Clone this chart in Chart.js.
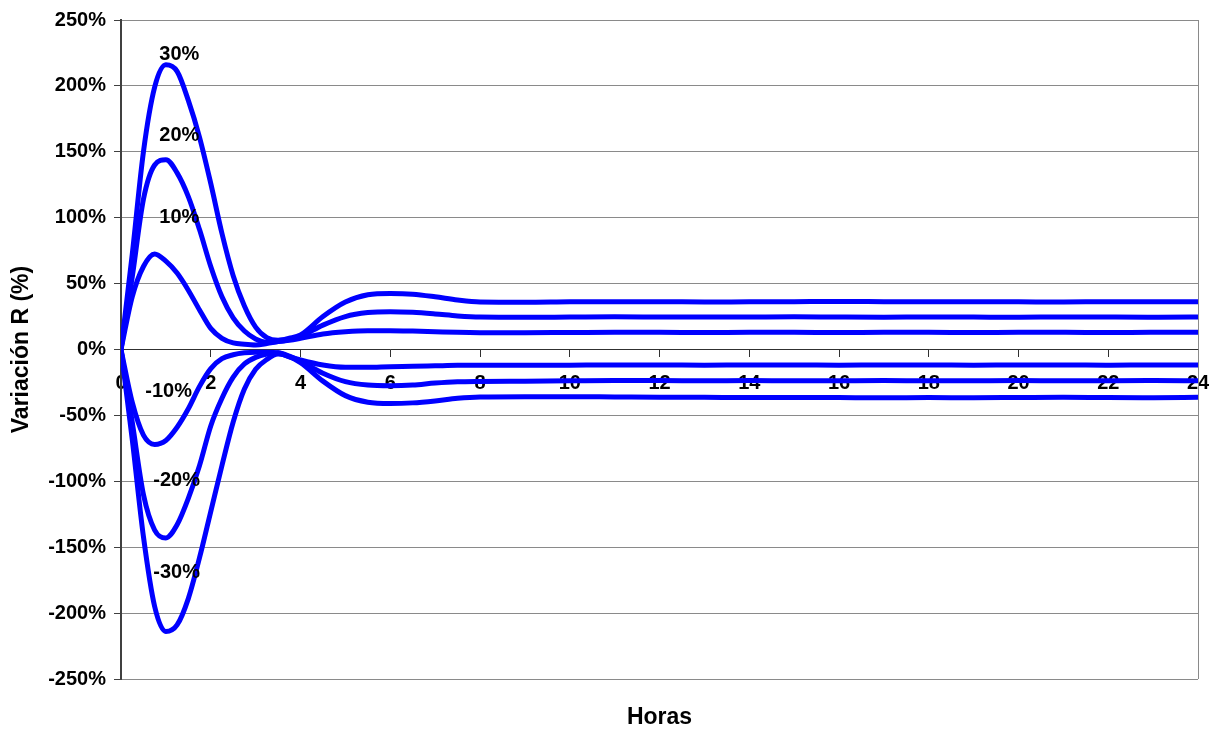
<!DOCTYPE html>
<html>
<head>
<meta charset="utf-8">
<script src="https://cdn.jsdelivr.net/npm/chart.js@4/dist/chart.umd.min.js"></script>
<style>
  html, body { margin: 0; padding: 0; background: #ffffff; }
  #wrap { width: 1220px; height: 733px; position: relative; }
</style>
</head>
<body>
<div id="wrap"><canvas id="c"></canvas></div>
<script>
// Hours since the step change
const hours = [0, 0.25, 0.5, 0.75, 1, 1.25, 1.5, 1.75, 2, 2.25, 2.5, 2.75, 3, 3.25, 3.5, 3.75, 4,
  4.5, 5, 5.5, 6, 6.5, 7, 7.5, 8,
  9, 10, 11, 12, 13, 14, 15, 16, 17, 18, 19, 20, 21, 22, 23, 24];

// Response of R (%) for each step size
const stepPlus30 = [0, 72, 150, 199, 216, 211, 189, 161, 126, 88, 56, 33, 17, 9, 7, 8.5, 11,
  25, 36, 41.5, 42.5, 42, 40, 37.5, 36,
  35.8, 36.2, 36.3, 36.3, 36, 36.2, 36.3, 36.4, 36.3, 36.2, 36.3, 36.2, 36, 36.3, 36.2, 36.3];
const stepPlus20 = [0, 55, 114, 140, 144, 134, 116, 91, 63, 40, 24, 14, 8, 5.5, 6, 7.5, 10,
  18.5, 25, 28, 28.7, 28.2, 27, 25.5, 24.6,
  24.4, 24.6, 24.8, 24.7, 24.6, 24.7, 24.8, 24.6, 24.5, 24.7, 24.6, 24.5, 24.7, 24.6, 24.5, 24.6];
const stepPlus10 = [0, 40, 63, 72.5, 67, 58, 45, 30, 16, 8.5, 5, 4, 3.5, 4.5, 6, 7, 8.5,
  11.8, 13.5, 14.3, 14.3, 14, 13.5, 13, 12.8,
  12.8, 12.9, 13, 13, 12.9, 13, 13, 12.9, 13, 13, 12.9, 13, 13, 12.9, 13, 13];
const stepMinus10 = [0, -40, -65, -72, -69, -59, -45, -28, -14.5, -7, -4, -2.5, -2, -2, -2.5, -5.5, -8,
  -11.8, -13.5, -13.5, -13, -12.8, -12.4, -12, -12,
  -12, -11.9, -11.8, -11.8, -11.9, -11.8, -11.8, -11.9, -11.8, -11.8, -11.9, -11.8, -11.8, -11.9, -11.8, -11.8];
const stepMinus20 = [0, -55, -110, -137, -143, -133, -113, -88, -58, -37, -21, -11, -6, -3.5, -2.5, -5, -9,
  -18, -24.4, -27, -27.5, -27, -25.5, -24.5, -24.2,
  -24, -23.8, -23.6, -23.6, -23.8, -23.6, -23.8, -23.7, -23.6, -23.8, -23.7, -23.6, -23.8, -23.7, -23.6, -23.8];
const stepMinus30 = [0, -68, -142, -195, -214, -209, -189, -158, -123, -88, -55, -30, -15, -7.5, -3.5, -5.5, -10,
  -24, -35, -40, -41, -40.5, -39, -37, -36,
  -35.8, -35.8, -36, -36.2, -36.3, -36.5, -36.4, -36.5, -36.6, -36.5, -36.6, -36.4, -36.2, -36.5, -36.6, -36.3];

// Curve captions and their anchor points (hours, %)
const curveLabels = ['30%', '20%', '10%', '-10%', '-20%', '-30%'];
const labelHours = [1.30, 1.30, 1.30, 1.06, 1.24, 1.24];
const labelValues = [223.8, 162.4, 100.2, -31.5, -99.4, -169.2];

// Axis ticks and titles
const yTicks = [-250, -200, -150, -100, -50, 0, 50, 100, 150, 200, 250];
const xTicks = [0, 2, 4, 6, 8, 10, 12, 14, 16, 18, 20, 22, 24];
const xTitle = 'Horas';
const yTitle = 'Variación R (%)';

const seriesList = [stepPlus30, stepPlus20, stepPlus10, stepMinus10, stepMinus20, stepMinus30];

const FONT = "'Liberation Sans', Arial, Helvetica, sans-serif";
Chart.defaults.font.family = FONT;
Chart.defaults.color = '#000000';

const datasets = seriesList.map((vals, i) => ({
  label: curveLabels[i],
  data: hours.map((h, k) => ({ x: h, y: vals[k] })),
  borderColor: '#0000ff',
  borderWidth: 5,
  pointRadius: 0,
  fill: false,
  cubicInterpolationMode: 'monotone'
}));

// Captions placed next to each curve
const curveCaptions = {
  id: 'curveCaptions',
  afterDatasetsDraw(chart) {
    const { ctx, scales: { x, y } } = chart;
    ctx.save();
    ctx.font = "bold 20px " + FONT;
    ctx.fillStyle = '#000000';
    ctx.textAlign = 'center';
    ctx.textBaseline = 'middle';
    curveLabels.forEach((t, i) => {
      ctx.fillText(t, x.getPixelForValue(labelHours[i]), y.getPixelForValue(labelValues[i]));
    });
    ctx.restore();
  }
};

// Right-hand edge of the plot frame and the horizontal axis title
const plotFrame = {
  id: 'plotFrame',
  beforeDatasetsDraw(chart) {
    const { ctx, chartArea: a } = chart;
    ctx.save();
    ctx.strokeStyle = '#8a8a8a';
    ctx.lineWidth = 1;
    ctx.beginPath();
    ctx.moveTo(Math.round(a.right) + 0.5, a.top);
    ctx.lineTo(Math.round(a.right) + 0.5, a.bottom);
    ctx.stroke();
    ctx.restore();
  },
  afterDraw(chart) {
    const { ctx, chartArea: a } = chart;
    ctx.save();
    ctx.font = "bold 23px " + FONT;
    ctx.fillStyle = '#000000';
    ctx.textAlign = 'center';
    ctx.textBaseline = 'middle';
    ctx.fillText(xTitle, (a.left + a.right) / 2, a.bottom + 39);
    ctx.restore();
  }
};

new Chart(document.getElementById('c'), {
  type: 'line',
  data: { datasets },
  options: {
    responsive: true,
    maintainAspectRatio: false,
    animation: false,
    layout: { padding: { left: 0, top: 20, right: 22, bottom: 54 } },
    plugins: {
      legend: { display: false },
      tooltip: { enabled: false }
    },
    scales: {
      x: {
        type: 'linear',
        min: 0,
        max: 24,
        position: { y: 0 },
        z: 1,
        afterFit(scale) {
          scale.height = 0;
          scale.paddingLeft = 0;
          scale.paddingRight = 0;
        },
        afterBuildTicks(scale) { scale.ticks = xTicks.map(v => ({ value: v })); },
        grid: {
          drawOnChartArea: false,
          drawTicks: true,
          tickLength: 7,
          color: '#303030',
          lineWidth: 1
        },
        border: { display: true, color: '#303030', width: 1 },
        ticks: {
          autoSkip: false,
          maxRotation: 0,
          padding: 15,
          font: { size: 20, weight: 'bold' },
          color: '#000000'
        }
      },
      y: {
        type: 'linear',
        min: -250,
        max: 250,
        position: 'left',
        afterFit(scale) { scale.width = 121; },
        afterBuildTicks(scale) { scale.ticks = yTicks.map(v => ({ value: v })); },
        grid: {
          color: '#8a8a8a',
          lineWidth: 1,
          drawTicks: true,
          tickLength: 7,
          tickColor: '#404040'
        },
        border: { display: true, color: '#404040', width: 2 },
        ticks: {
          padding: 8,
          font: { size: 20, weight: 'bold' },
          color: '#000000',
          callback: v => v + '%'
        },
        title: {
          display: true,
          text: yTitle,
          font: { size: 23, weight: 'bold' },
          color: '#000000',
          padding: { top: 8, bottom: 4 }
        }
      }
    }
  },
  plugins: [plotFrame, curveCaptions]
});
</script>
</body>
</html>
